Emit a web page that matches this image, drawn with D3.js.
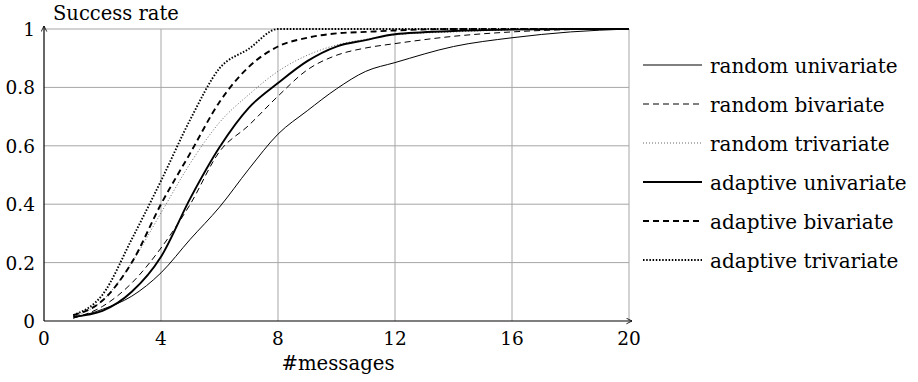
<!DOCTYPE html>
<html>
<head>
<meta charset="utf-8">
<script src="https://cdn.jsdelivr.net/npm/d3@7"></script>
<style>
  body { margin: 0; background: #fff; }
</style>
</head>
<body>
<svg id="chart" width="918" height="382"></svg>
<script>
// message counts on the x axis
const messages = [1, 2, 3, 4, 5, 6, 7, 8, 9, 10, 11, 12, 14, 16, 18, 20];

const randomUni   = [0.01, 0.04, 0.085, 0.165, 0.28, 0.39, 0.52, 0.64, 0.72, 0.795, 0.855, 0.885, 0.94, 0.97, 0.99, 1.0];
const randomBi    = [0.01, 0.05, 0.13, 0.25, 0.40, 0.58, 0.67, 0.77, 0.86, 0.91, 0.935, 0.95, 0.975, 0.99, 0.998, 1.0];
const randomTri   = [0.015, 0.07, 0.20, 0.37, 0.54, 0.68, 0.775, 0.855, 0.91, 0.945, 0.965, 0.98, 0.99, 0.997, 1.0, 1.0];
const adaptiveUni = [0.015, 0.035, 0.10, 0.22, 0.42, 0.595, 0.73, 0.815, 0.89, 0.94, 0.962, 0.982, 0.993, 0.998, 1.0, 1.0];
const adaptiveBi  = [0.02, 0.07, 0.20, 0.40, 0.575, 0.75, 0.87, 0.94, 0.97, 0.985, 0.99, 0.995, 1.0, 1.0, 1.0, 1.0];
const adaptiveTri = [0.02, 0.09, 0.28, 0.48, 0.69, 0.865, 0.932, 1.0, 1.0, 1.0, 1.0, 1.0, 1.0, 1.0, 1.0, 1.0];

const xTicks = [0, 4, 8, 12, 16, 20];
const yTicks = [0, 0.2, 0.4, 0.6, 0.8, 1];

const seriesNames = ["random univariate", "random bivariate", "random trivariate",
                     "adaptive univariate", "adaptive bivariate", "adaptive trivariate"];
const seriesValues = [randomUni, randomBi, randomTri, adaptiveUni, adaptiveBi, adaptiveTri];

// line styles per series
const styles = [
  {w: 1,   dash: null,      color: "#000"},
  {w: 1,   dash: "6,4",     color: "#000"},
  {w: 1,   dash: "1,2",     color: "#666"},
  {w: 1.9, dash: null,      color: "#000"},
  {w: 1.9, dash: "6,4",     color: "#000"},
  {w: 1.9, dash: "1.5,1.7", color: "#000"}
];

const font = "'DejaVu Serif', 'Liberation Serif', serif";

const svg = d3.select("#chart");
const plotLeft = 44, plotRight = 629, plotTop = 29, plotBottom = 321;

const x = d3.scaleLinear().domain([0, 20]).range([plotLeft, plotRight]);
const y = d3.scaleLinear().domain([0, 1]).range([plotBottom, plotTop]);

// grid
svg.append("g")
  .selectAll("line")
  .data(xTicks.slice(1))
  .enter().append("line")
  .attr("x1", d => x(d)).attr("x2", d => x(d))
  .attr("y1", plotTop).attr("y2", plotBottom)
  .attr("stroke", "#a6a6a6").attr("stroke-width", 1);

svg.append("g")
  .selectAll("line")
  .data(yTicks.slice(1))
  .enter().append("line")
  .attr("x1", plotLeft).attr("x2", plotRight)
  .attr("y1", d => y(d)).attr("y2", d => y(d))
  .attr("stroke", "#a6a6a6").attr("stroke-width", 1);

// arrowhead
svg.append("defs").append("marker")
  .attr("id", "arrow")
  .attr("viewBox", "0 0 10 10")
  .attr("refX", 9).attr("refY", 5)
  .attr("markerWidth", 7).attr("markerHeight", 7)
  .attr("markerUnits", "userSpaceOnUse")
  .attr("orient", "auto")
  .append("path")
  .attr("d", "M1,1 L9,5 L1,9")
  .attr("fill", "none").attr("stroke", "#000").attr("stroke-width", 1.2);

// series
const line = d3.line()
  .x((d, i) => x(messages[i]))
  .y(d => y(d))
  .curve(d3.curveMonotoneX);

svg.append("g")
  .selectAll("path")
  .data(seriesValues)
  .enter().append("path")
  .attr("d", d => line(d))
  .attr("fill", "none")
  .attr("stroke", (d, i) => styles[i].color)
  .attr("stroke-width", (d, i) => styles[i].w)
  .attr("stroke-dasharray", (d, i) => styles[i].dash)
  .attr("stroke-linejoin", "round");

// axes lines
svg.append("line")
  .attr("x1", plotLeft).attr("x2", plotRight + 3)
  .attr("y1", plotBottom).attr("y2", plotBottom)
  .attr("stroke", "#000").attr("stroke-width", 1.2)
  .attr("marker-end", "url(#arrow)");
svg.append("line")
  .attr("x1", plotLeft).attr("x2", plotLeft)
  .attr("y1", plotBottom).attr("y2", plotTop - 3)
  .attr("stroke", "#000").attr("stroke-width", 1.2)
  .attr("marker-end", "url(#arrow)");

// tick labels
svg.append("g")
  .selectAll("text")
  .data(xTicks)
  .enter().append("text")
  .attr("x", d => x(d))
  .attr("y", 345)
  .attr("text-anchor", "middle")
  .attr("font-family", font)
  .style("font-size", "18.5px")
  .text(d => d);

svg.append("g")
  .selectAll("text")
  .data(yTicks)
  .enter().append("text")
  .attr("x", plotLeft - 9)
  .attr("y", d => y(d) + 7)
  .attr("text-anchor", "end")
  .attr("font-family", font)
  .style("font-size", "18.5px")
  .text(d => d);

// axis titles
svg.append("text")
  .attr("x", 338).attr("y", 370)
  .attr("text-anchor", "middle")
  .attr("font-family", font)
  .style("font-size", "19.7px")
  .text("#messages");

svg.append("text")
  .attr("x", 53).attr("y", 20)
  .attr("font-family", font)
  .style("font-size", "19.5px")
  .text("Success rate");

// legend
const legend = svg.append("g");
const rows = legend.selectAll("g")
  .data(seriesNames)
  .enter().append("g")
  .attr("transform", (d, i) => "translate(643," + (65 + i * 39) + ")");

rows.append("line")
  .attr("x1", 0).attr("x2", 59)
  .attr("y1", 0).attr("y2", 0)
  .attr("stroke", (d, i) => styles[i].color)
  .attr("stroke-width", (d, i) => styles[i].w)
  .attr("stroke-dasharray", (d, i) => styles[i].dash);

rows.append("text")
  .attr("x", 67).attr("y", 8)
  .attr("font-family", font)
  .style("font-size", "20px")
  .text(d => d);
</script>
</body>
</html>
